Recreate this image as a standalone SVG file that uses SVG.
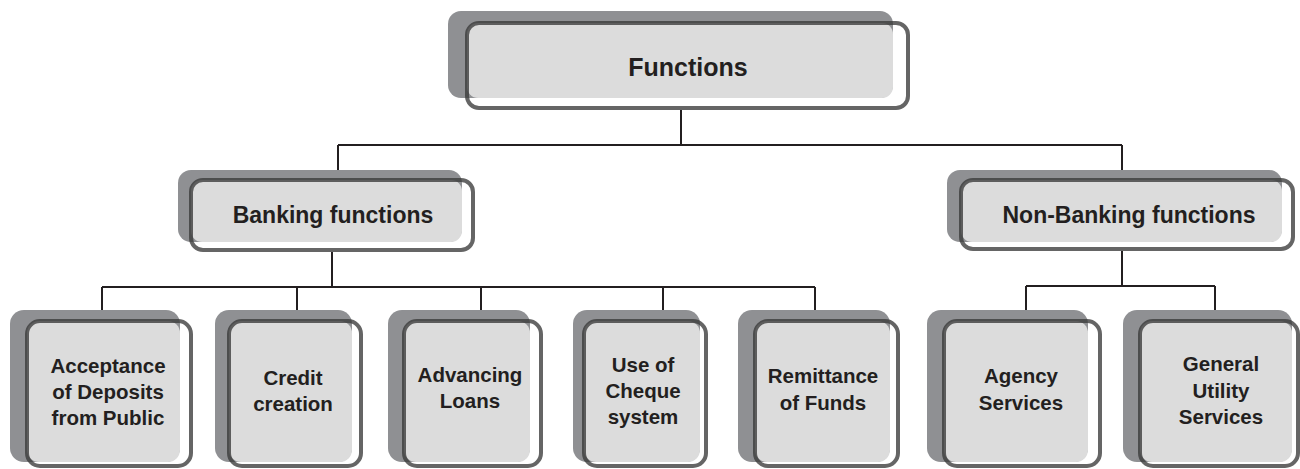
<svg xmlns="http://www.w3.org/2000/svg" width="1300" height="469" viewBox="0 0 1300 469">
<style>
.sh{fill:#8f9093}
.fl{fill:#dcdcdc}
.ol{fill:none;stroke:#3a3a3a;stroke-opacity:0.78;stroke-width:4}
.t{font-family:"Liberation Sans",Arial,sans-serif;font-weight:bold;fill:#231f20;text-anchor:middle}
.t1{font-size:25px}
.t2{font-size:23px}
.t3{font-size:20.5px}
.cn{fill:none;stroke:#231f20;stroke-width:2}
</style>
<rect width="1300" height="469" fill="#fff"/>
<g id="connectors" class="cn">
<path d="M681 110V145M338 145H1122M338 145V170M1122 145V170"/>
<path d="M332 252V287M102 287H815M102 287V310M297 287V310M481 287V310M663 287V310M815 287V310"/>
<path d="M1122 251V286M1026 286H1215M1026 286V310M1215 286V310"/>
</g>
<g id="functions">
<rect class="sh" x="448" y="11" width="445" height="87" rx="13"/>
<rect class="fl" x="467" y="23" width="426" height="75" rx="11"/>
<rect class="ol" x="467" y="23" width="441" height="85" rx="12"/>
<text class="t t1" x="688" y="76">Functions</text>
</g>
<g id="banking">
<rect class="sh" x="178" y="170" width="284" height="72" rx="13"/>
<rect class="fl" x="191" y="180" width="271" height="62" rx="11"/>
<rect class="ol" x="191" y="180" width="282" height="70" rx="12"/>
<text class="t t2" x="333" y="223">Banking functions</text>
</g>
<g id="nonbanking">
<rect class="sh" x="947" y="170" width="335" height="72" rx="13"/>
<rect class="fl" x="961" y="180" width="321" height="62" rx="11"/>
<rect class="ol" x="961" y="180" width="332" height="69" rx="12"/>
<text class="t t2" x="1129" y="223">Non-Banking functions</text>
</g>
<g id="acceptance">
<rect class="sh" x="10" y="310" width="170" height="152" rx="14"/>
<rect class="fl" x="27" y="321" width="153" height="141" rx="12"/>
<rect class="ol" x="27" y="321" width="164" height="145" rx="13"/>
<text class="t t3" x="108" y="373">Acceptance</text>
<text class="t t3" x="108" y="399">of Deposits</text>
<text class="t t3" x="108" y="425">from Public</text>
</g>
<g id="credit">
<rect class="sh" x="215" y="310" width="137" height="152" rx="14"/>
<rect class="fl" x="229" y="321" width="123" height="141" rx="12"/>
<rect class="ol" x="229" y="321" width="132" height="145" rx="13"/>
<text class="t t3" x="293" y="385">Credit</text>
<text class="t t3" x="293" y="411">creation</text>
</g>
<g id="advancing">
<rect class="sh" x="388" y="310" width="142" height="152" rx="14"/>
<rect class="fl" x="404" y="321" width="126" height="141" rx="12"/>
<rect class="ol" x="404" y="321" width="137" height="145" rx="13"/>
<text class="t t3" x="470" y="382">Advancing</text>
<text class="t t3" x="470" y="408">Loans</text>
</g>
<g id="cheque">
<rect class="sh" x="573" y="310" width="127" height="152" rx="14"/>
<rect class="fl" x="584" y="321" width="116" height="141" rx="12"/>
<rect class="ol" x="584" y="321" width="122" height="145" rx="13"/>
<text class="t t3" x="643" y="372">Use of</text>
<text class="t t3" x="643" y="398">Cheque</text>
<text class="t t3" x="643" y="424">system</text>
</g>
<g id="remittance">
<rect class="sh" x="738" y="310" width="152" height="152" rx="14"/>
<rect class="fl" x="755" y="321" width="135" height="141" rx="12"/>
<rect class="ol" x="755" y="321" width="143" height="145" rx="13"/>
<text class="t t3" x="823" y="383">Remittance</text>
<text class="t t3" x="823" y="410">of Funds</text>
</g>
<g id="agency">
<rect class="sh" x="927" y="310" width="161" height="152" rx="14"/>
<rect class="fl" x="944" y="321" width="144" height="141" rx="12"/>
<rect class="ol" x="944" y="321" width="156" height="145" rx="13"/>
<text class="t t3" x="1021" y="383">Agency</text>
<text class="t t3" x="1021" y="410">Services</text>
</g>
<g id="utility">
<rect class="sh" x="1123" y="310" width="169" height="152" rx="14"/>
<rect class="fl" x="1140" y="321" width="152" height="141" rx="12"/>
<rect class="ol" x="1140" y="321" width="158" height="145" rx="13"/>
<text class="t t3" x="1221" y="371">General</text>
<text class="t t3" x="1221" y="398">Utility</text>
<text class="t t3" x="1221" y="424">Services</text>
</g>
</svg>
